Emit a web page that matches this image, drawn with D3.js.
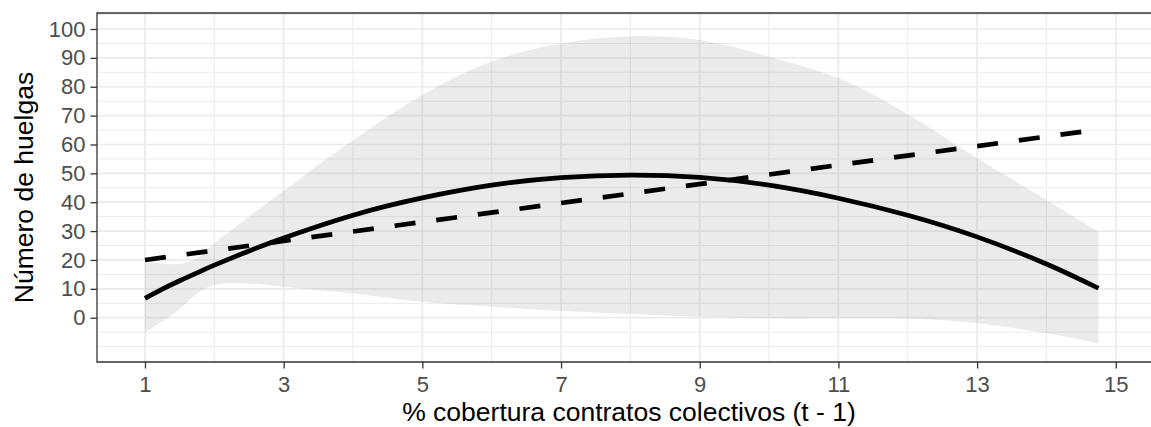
<!DOCTYPE html>
<html>
<head>
<meta charset="utf-8">
<script src="https://cdn.jsdelivr.net/npm/d3@7"></script>
<style>
  html, body { margin: 0; padding: 0; background: #fff; }
  svg { display: block; }
  text { font-family: "Liberation Sans", Arial, Helvetica, sans-serif; }
</style>
</head>
<body>
<svg id="chart" width="1151" height="427"></svg>
<script>
// Quadratic fit with its confidence band, plus a linear fit
const xs        = [1, 1.25, 1.5, 1.75, 2, 2.5, 3, 4, 5, 6, 7, 8, 9, 10, 11, 12, 13, 14, 14.75];
const fitQuad   = [6.7, 9.9, 12.8, 15.5, 18.2, 23.1, 27.6, 35.5, 41.5, 45.9, 48.5, 49.4, 48.6, 45.9, 41.4, 35.5, 28.0, 18.6, 10.2];
const bandUpper = [19.2, 18.8, 18.6, 20.5, 25.8, 35.0, 44.0, 61.5, 77.1, 88.7, 95.0, 97.5, 96.2, 90.4, 82.9, 70.5, 55.2, 40.8, 29.8];
const bandLower = [-5.1, -1.2, 3.0, 8.3, 11.3, 11.8, 10.7, 8.4, 5.5, 3.8, 2.3, 1.3, 0.3, -0.2, -0.2, -0.3, -1.9, -5.4, -8.9];
const linX      = [1, 14.75];
const fitLinear = [20.0, 65.2];

const xTicks = [1, 3, 5, 7, 9, 11, 13, 15];
const xMinor = [2, 4, 6, 8, 10, 12, 14];
const yTicks = [0, 10, 20, 30, 40, 50, 60, 70, 80, 90, 100];
const yMinor = [-10, -5, 5, 15, 25, 35, 45, 55, 65, 75, 85, 95, 105];

const xTitle = "% cobertura contratos colectivos (t - 1)";
const yTitle = "Número de huelgas";

const svg = d3.select("#chart");
const panel = { left: 97, right: 1161, top: 13, bottom: 362 };

const x = d3.scaleLinear().domain([0.308, 15.652]).range([panel.left, panel.right]);
const y = d3.scaleLinear().domain([-15.34, 105.54]).range([panel.bottom, panel.top]);

svg.append("defs").append("clipPath").attr("id", "panelClip")
  .append("rect")
  .attr("x", panel.left).attr("y", panel.top)
  .attr("width", panel.right - panel.left).attr("height", panel.bottom - panel.top);

// grid
const grid = svg.append("g");
grid.selectAll(".ymin").data(yMinor).join("line")
  .attr("x1", panel.left).attr("x2", panel.right)
  .attr("y1", d => y(d)).attr("y2", d => y(d))
  .attr("stroke", "#ebebeb").attr("stroke-width", 1);
grid.selectAll(".xmin").data(xMinor).join("line")
  .attr("y1", panel.top).attr("y2", panel.bottom)
  .attr("x1", d => x(d)).attr("x2", d => x(d))
  .attr("stroke", "#ebebeb").attr("stroke-width", 1);
grid.selectAll(".ymaj").data(yTicks).join("line")
  .attr("x1", panel.left).attr("x2", panel.right)
  .attr("y1", d => y(d)).attr("y2", d => y(d))
  .attr("stroke", "#ebebeb").attr("stroke-width", 1.7);
grid.selectAll(".xmaj").data(xTicks).join("line")
  .attr("y1", panel.top).attr("y2", panel.bottom)
  .attr("x1", d => x(d)).attr("x2", d => x(d))
  .attr("stroke", "#ebebeb").attr("stroke-width", 1.7);

const plot = svg.append("g").attr("clip-path", "url(#panelClip)");
const bandCurve = d3.curveCatmullRom.alpha(0.5);

// confidence band
const band = xs.map((v, i) => ({ x: v, lo: bandLower[i], hi: bandUpper[i] }));
plot.append("path")
  .datum(band)
  .attr("fill", "#999999").attr("fill-opacity", 0.2)
  .attr("d", d3.area().curve(bandCurve)
    .x(d => x(d.x)).y0(d => y(d.lo)).y1(d => y(d.hi)));

// quadratic fit
plot.append("path")
  .datum(xs.map((v, i) => [v, fitQuad[i]]))
  .attr("fill", "none").attr("stroke", "#000").attr("stroke-width", 4.7)
  .attr("d", d3.line().curve(d3.curveNatural).x(d => x(d[0])).y(d => y(d[1])));

// linear fit
plot.append("path")
  .datum(linX.map((v, i) => [v, fitLinear[i]]))
  .attr("fill", "none").attr("stroke", "#000").attr("stroke-width", 4.7)
  .attr("stroke-dasharray", "21,21").attr("stroke-linecap", "butt")
  .attr("d", d3.line().x(d => x(d[0])).y(d => y(d[1])));

// panel border (left, top, bottom)
const border = svg.append("g").attr("stroke", "#333333").attr("stroke-width", 1.3).attr("fill", "none");
border.append("path").attr("d",
  `M${panel.right},${panel.top}H${panel.left}V${panel.bottom}H${panel.right}`);

// axes
const xAxis = svg.append("g").attr("transform", `translate(0,${panel.bottom})`)
  .call(d3.axisBottom(x).tickValues(xTicks).tickSize(6.5).tickPadding(8).tickFormat(d3.format("d")));
const yAxis = svg.append("g").attr("transform", `translate(${panel.left},0)`)
  .call(d3.axisLeft(y).tickValues(yTicks).tickSize(6.5).tickPadding(5).tickFormat(d3.format("d")));

[xAxis, yAxis].forEach(g => {
  g.select(".domain").remove();
  g.selectAll(".tick line").attr("stroke", "#333333").attr("stroke-width", 1.3);
  g.selectAll(".tick text").attr("fill", "#4d4d4d").style("font-size", "22px")
    .style("font-family", '"Liberation Sans", Arial, sans-serif');
});

// axis titles
svg.append("text")
  .attr("x", (panel.left + panel.right) / 2).attr("y", 421)
  .attr("text-anchor", "middle").attr("fill", "#000")
  .style("font-size", "26.5px")
  .text(xTitle);

svg.append("text")
  .attr("transform", `translate(33,${(panel.top + panel.bottom) / 2}) rotate(-90)`)
  .attr("text-anchor", "middle").attr("fill", "#000")
  .style("font-size", "26.5px")
  .text(yTitle);
</script>
</body>
</html>
